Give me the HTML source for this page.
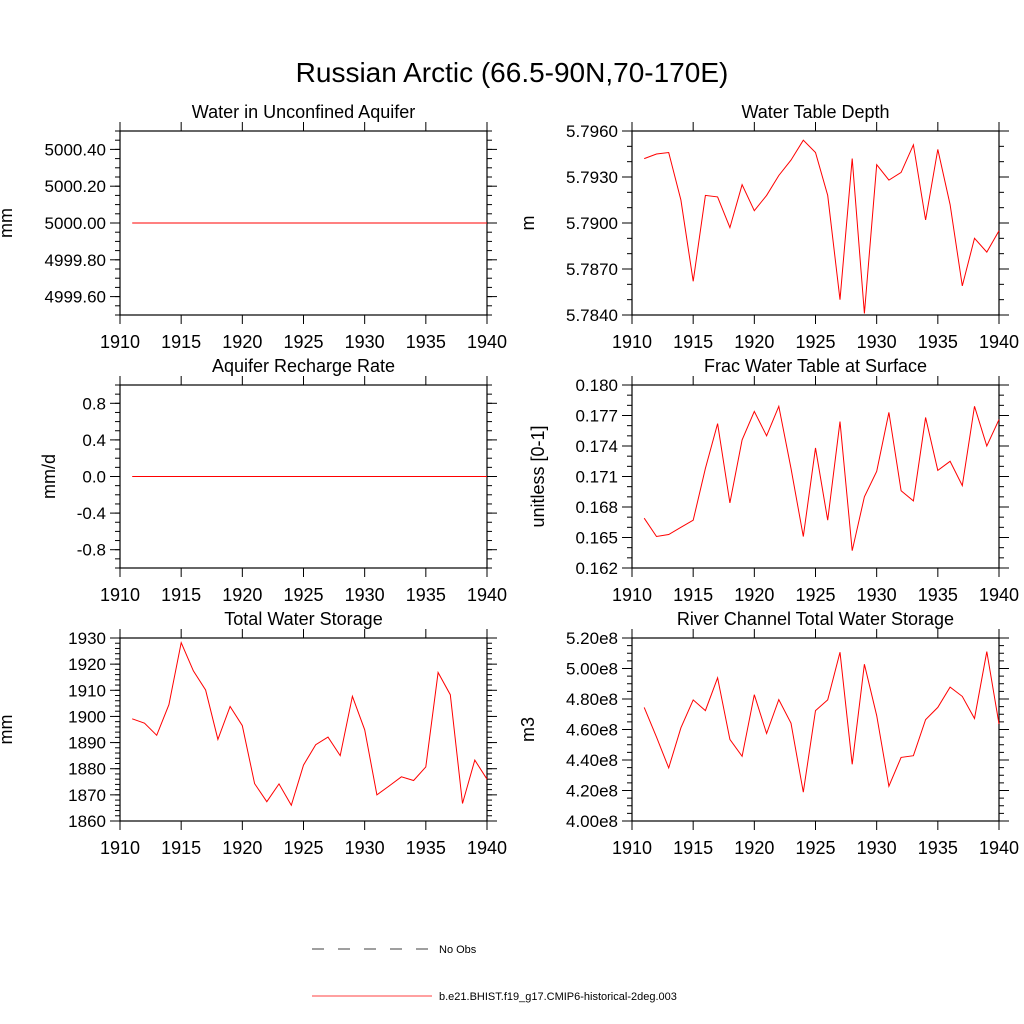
<!DOCTYPE html>
<html><head><meta charset="utf-8"><style>
body{margin:0;background:#fff}
svg{display:block;font-family:"Liberation Sans",sans-serif}
</style></head><body>
<svg id="fig" width="1024" height="1024" viewBox="0 0 1024 1024">
<text x="512" y="82" font-size="28" text-anchor="middle">Russian Arctic (66.5-90N,70-170E)</text>
<g id="panels"></g>
<g>
<line x1="312" y1="949" x2="432" y2="949" stroke="#000" stroke-width="0.8" stroke-dasharray="12,14"/>
<text x="439" y="953" font-size="11">No Obs</text>
<line x1="312" y1="996" x2="432" y2="996" stroke="#ff0000" stroke-width="0.8"/>
<text x="439" y="1000" font-size="11">b.e21.BHIST.f19_g17.CMIP6-historical-2deg.003</text>
</g>
</svg>
<script>
const years = [];
for (let y = 1911; y <= 1940; y++) years.push(y);
const xTicks = [1910,1915,1920,1925,1930,1935,1940];
const aquiferWater = [5000,5000,5000,5000,5000,5000,5000,5000,5000,5000,5000,5000,5000,5000,5000,5000,5000,5000,5000,5000,5000,5000,5000,5000,5000,5000,5000,5000,5000,5000];
const rechargeRate = [0,0,0,0,0,0,0,0,0,0,0,0,0,0,0,0,0,0,0,0,0,0,0,0,0,0,0,0,0,0];
const waterTableDepth = [5.7942,5.7945,5.7946,5.7915,5.7862,5.7918,5.7917,5.7897,5.7925,5.7908,5.7918,5.7931,5.7941,5.7954,5.7946,5.7918,5.7850,5.7942,5.7841,5.7938,5.7928,5.7933,5.7951,5.7902,5.7948,5.7912,5.7859,5.7890,5.7881,5.7895];
const fracWaterTable = [0.1669,0.1651,0.1653,0.1660,0.1667,0.1718,0.1762,0.1684,0.1746,0.1774,0.1750,0.1779,0.1718,0.1651,0.1738,0.1667,0.1764,0.1637,0.1690,0.1715,0.1773,0.1696,0.1686,0.1768,0.1716,0.1725,0.1701,0.1779,0.1740,0.1766];
const totalWaterStorage = [1899.1,1897.4,1892.8,1904.5,1928.2,1917.4,1910.1,1891.2,1903.8,1896.5,1874.3,1867.4,1874.2,1866.0,1881.4,1889.2,1892.1,1885.0,1907.7,1894.9,1870.0,1873.4,1876.9,1875.5,1880.7,1916.8,1908.3,1866.7,1883.3,1876.0];
const riverStorage = [4.745,4.550,4.348,4.611,4.794,4.724,4.939,4.535,4.424,4.828,4.574,4.796,4.641,4.189,4.724,4.794,5.107,4.372,5.028,4.691,4.228,4.417,4.428,4.665,4.745,4.878,4.817,4.672,5.111,4.637];

const yTicksA = [4999.6,4999.8,5000.0,5000.2,5000.4];
const yTicksB = [5.784,5.787,5.790,5.793,5.796];
const yTicksC = [-0.8,-0.4,0.0,0.4,0.8];
const yTicksD = [0.162,0.165,0.168,0.171,0.174,0.177,0.180];
const yTicksE = [1860,1870,1880,1890,1900,1910,1920,1930];
const yTicksF = [4.0,4.2,4.4,4.6,4.8,5.0,5.2];

const NS = "http://www.w3.org/2000/svg";
const root = document.getElementById('panels');
function mk(tag, attrs, parent){const e=document.createElementNS(NS,tag);for(const k in attrs)e.setAttribute(k,attrs[k]);parent.appendChild(e);return e;}

const panels = [
 {name:'water-in-unconfined-aquifer',title:'Water in Unconfined Aquifer',ylab:'mm',x0:120,x1:487,y0:131,y1:315,ymin:4999.5,ymax:5000.5,ticks:yTicksA,minor:0.05,fmt:v=>v.toFixed(2),data:aquiferWater,labx:12},
 {name:'water-table-depth',title:'Water Table Depth',ylab:'m',x0:632,x1:999,y0:131,y1:315,ymin:5.784,ymax:5.796,ticks:yTicksB,minor:0.001,fmt:v=>v.toFixed(4),data:waterTableDepth,labx:534},
 {name:'aquifer-recharge-rate',title:'Aquifer Recharge Rate',ylab:'mm/d',x0:120,x1:487,y0:385,y1:568,ymin:-1,ymax:1,ticks:yTicksC,minor:0.1,fmt:v=>v.toFixed(1),data:rechargeRate,labx:55},
 {name:'frac-water-table-at-surface',title:'Frac Water Table at Surface',ylab:'unitless [0-1]',x0:632,x1:999,y0:385,y1:568,ymin:0.162,ymax:0.180,ticks:yTicksD,minor:0.001,fmt:v=>v.toFixed(3),data:fracWaterTable,labx:544},
 {name:'total-water-storage',title:'Total Water Storage',ylab:'mm',x0:120,x1:487,y0:638,y1:821,ymin:1860,ymax:1930,ticks:yTicksE,minor:2,fmt:v=>v.toFixed(0),data:totalWaterStorage,labx:12},
 {name:'river-channel-total-water-storage',title:'River Channel Total Water Storage',ylab:'m3',x0:632,x1:999,y0:638,y1:821,ymin:4.0,ymax:5.2,ticks:yTicksF,minor:0.05,fmt:v=>v.toFixed(2)+'e8',data:riverStorage,labx:534}
];

panels.forEach(p=>{
  const g = mk('g',{},root);
  
  
  const sx = v => p.x0 + (v-1910)/30*(p.x1-p.x0);
  const sy = v => p.y1 - (v-p.ymin)/(p.ymax-p.ymin)*(p.y1-p.y0);
  const t = mk('text',{x:(p.x0+p.x1)/2,y:p.y0-13,'font-size':18,'text-anchor':'middle'},g);
  t.textContent = p.title;
  
  
  const yl = mk('text',{x:p.labx,y:(p.y0+p.y1)/2,'font-size':18,'text-anchor':'middle',transform:`rotate(-90 ${p.labx} ${(p.y0+p.y1)/2})`},g);
  yl.textContent = p.ylab;
  
  
  // minor y ticks
  const nmin = Math.round((p.ymax-p.ymin)/p.minor);
  for(let i=0;i<=nmin;i++){
    const y = sy(p.ymin+i*p.minor);
    mk('line',{x1:p.x0-5,y1:y,x2:p.x0,y2:y,stroke:'#000','stroke-width':1},g);
    mk('line',{x1:p.x1,y1:y,x2:p.x1+5,y2:y,stroke:'#000','stroke-width':1},g);
  }
  p.ticks.forEach(v=>{
    const y = sy(v);
    mk('line',{x1:p.x0-10,y1:y,x2:p.x0,y2:y,stroke:'#000','stroke-width':1},g);
    mk('line',{x1:p.x1,y1:y,x2:p.x1+10,y2:y,stroke:'#000','stroke-width':1},g);
    const tl = mk('text',{x:p.x0-14,y:y+6,'font-size':17,'text-anchor':'end'},g);
    tl.textContent = p.fmt(v);
    
    
  });
  xTicks.forEach(v=>{
    const x = sx(v);
    mk('line',{x1:x,y1:p.y1,x2:x,y2:p.y1+9,stroke:'#000','stroke-width':1},g);
    mk('line',{x1:x,y1:p.y0-9,x2:x,y2:p.y0,stroke:'#000','stroke-width':1},g);
    const tl = mk('text',{x:x,y:p.y1+33,'font-size':18,'text-anchor':'middle'},g);
    tl.textContent = v;
    
    
  });
  mk('rect',{x:p.x0,y:p.y0,width:p.x1-p.x0,height:p.y1-p.y0,fill:'none',stroke:'#000','stroke-width':1.2},g);
  const pts = p.data.map((v,i)=>sx(years[i]).toFixed(1)+','+sy(v).toFixed(1)).join(' ');
  const line = mk('polyline',{points:pts,fill:'none',stroke:'#ff0000','stroke-width':1},g);
  
  
});
</script>
</body></html>
